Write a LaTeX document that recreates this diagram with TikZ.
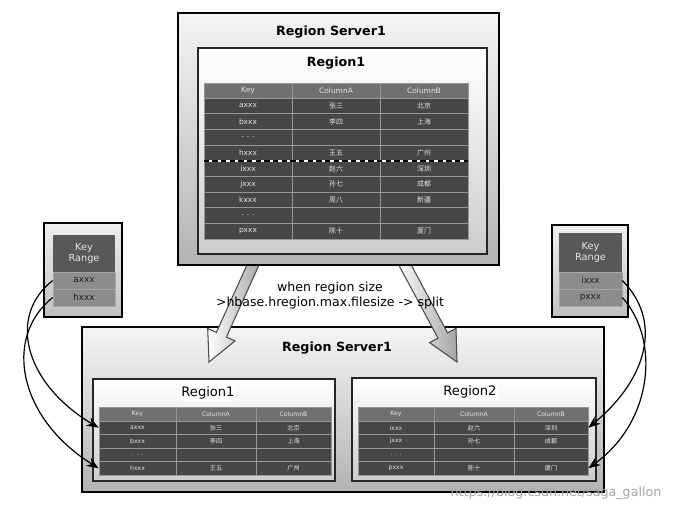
\documentclass[tikz,border=0pt]{standalone}
\usepackage{fontspec}
\setmainfont{DejaVu Sans}
\newfontfamily\cjk{Noto Sans CJK SC}
\usetikzlibrary{arrows.meta}

\definecolor{headgray}{RGB}{112,112,112}
\definecolor{rowgray}{RGB}{70,70,70}
\definecolor{gridgray}{RGB}{150,150,150}
\definecolor{keyhead}{RGB}{88,88,88}
\definecolor{keyrow}{RGB}{140,140,140}
\definecolor{txtlight}{RGB}{228,228,228}
\definecolor{txtdark}{RGB}{30,30,30}

\tikzset{every picture/.style={line width=0.75pt}}
\tikzset{
  server/.style={draw=black, line width=1.1pt, top color=black!4, bottom color=black!30},
  regionbox/.style={draw=black!85, line width=1pt, top color=white, bottom color=black!20},
  keybox/.style={draw=black, line width=1pt, top color=black!6, bottom color=black!25},
  bigarrow/.style={draw=black!70, line width=0.8pt, left color=white, right color=black!35},
  title/.style={font=\bfseries\fontsize{9.5}{11}\selectfont},
  subtitle/.style={font=\fontsize{9.8}{11}\selectfont, fill=white, inner sep=1pt},
  headrow/.style={draw=gridgray, fill=headgray, inner sep=0pt, line width=0.6pt},
  datarow/.style={draw=gridgray, fill=rowgray, inner sep=0pt, line width=0.6pt},
  toptxt/.style={text=txtlight, inner sep=0pt, font=\fontsize{5.6}{6}\selectfont},
  topcjk/.style={text=txtlight, inner sep=0pt, font=\cjk\fontsize{5.2}{6}\selectfont},
  lowtxt/.style={text=txtlight, inner sep=0pt, font=\fontsize{4.6}{5}\selectfont},
  lowcjk/.style={text=txtlight, inner sep=0pt, font=\cjk\fontsize{4.6}{5}\selectfont},
  keyhd/.style={fill=keyhead, text=txtlight, inner sep=0pt, align=center, font=\fontsize{7.3}{8.4}\selectfont},
  keycell/.style={fill=keyrow, draw=black!35, line width=0.4pt, text=txtdark, inner sep=0pt, font=\fontsize{6.6}{7}\selectfont},
  link/.style={-{Stealth[length=9pt,width=7pt]}, line width=0.9pt}
}

\begin{document}
\begin{tikzpicture}[x=0.75pt,y=0.75pt,yscale=-1,xscale=1]
\useasboundingbox (0,0) rectangle (681,511);

%Shape: Rectangle [id:lower server]
\draw[server] (82,327) rectangle (604,492);
\node[title] (srv2) at (337,348) {Region Server1};

%Shape: Arrow [id:split left]
\draw[bigarrow] (251.5,254.9) -- (216.4,332.4) -- (207.7,328.5) -- (209,362) -- (235.1,340.9) -- (226.4,337.0) -- (261.5,259.5) -- cycle;
%Shape: Arrow [id:split right]
\draw[bigarrow] (395.4,258.8) -- (438.0,338.1) -- (429.6,342.6) -- (457,362) -- (456.0,328.4) -- (447.6,332.9) -- (405.1,253.6) -- cycle;

%Shape: Rectangle [id:upper server]
\draw[server] (178,13) rectangle (499,265);
\node[title] (srv1) at (331,32) {Region Server1};
\draw[regionbox] (198,48) rectangle (487,254);
\node[title] (reg0) at (336,63) {Region1};

%upper table
\node[headrow, minimum width=198pt, minimum height=11.25pt] (th) at (336,90.5) {};
\foreach \k/\a/\b [count=\i] in {axxx/张三/北京, bxxx/李四/上海, {. . .}/{}/{}, hxxx/王五/广州, ixxx/赵六/深圳, jxxx/孙七/成都, kxxx/周八/新疆, {. . .}/{}/{}, pxxx/陈十/厦门}{
  \node[datarow, minimum width=198pt, minimum height=11.75pt] (t\i) at (336,{98+15.67*(\i-0.5)}) {};
  \node[toptxt] at (248,{98+15.67*(\i-0.5)}) {\k};
  \node[topcjk] at (336,{98+15.67*(\i-0.5)}) {\a};
  \node[topcjk] at (424,{98+15.67*(\i-0.5)}) {\b};
}
\node[toptxt] at (248,90.5) {Key};
\node[toptxt] at (336,90.5) {ColumnA};
\node[toptxt] at (424,90.5) {ColumnB};
\draw[gridgray, line width=0.6pt] (292,83) -- (292,239) (380,83) -- (380,239);
\draw[white, line width=2pt] (t4.south west) -- (t4.south east);
\draw[black, line width=2pt, dash pattern=on 4pt off 2.5pt] (t4.south west) -- (t4.south east);

%Shape: Rectangle [id:lower region1]
\draw[regionbox] (93,379) rectangle (335,481);
\node[subtitle] (reg1) at (208,393) {Region1};
\node[headrow, minimum width=174pt, minimum height=10.5pt] (lh) at (215,414) {};
\foreach \k/\a/\b [count=\i] in {axxx/张三/北京, bxxx/李四/上海, {. . .}/{}/{}, hxxx/王五/广州}{
  \node[datarow, minimum width=174pt, minimum height=10.1pt] (l\i) at (215,{421+13.5*(\i-0.5)}) {};
  \node[lowtxt] at (137.5,{421+13.5*(\i-0.5)}) {\k};
  \node[lowcjk] at (216,{421+13.5*(\i-0.5)}) {\a};
  \node[lowcjk] at (293.5,{421+13.5*(\i-0.5)}) {\b};
}
\node[lowtxt] at (137.5,414) {Key};
\node[lowtxt] at (216,414) {ColumnA};
\node[lowtxt] at (293.5,414) {ColumnB};
\draw[gridgray, line width=0.6pt] (176,407) -- (176,475) (256,407) -- (256,475);

%Shape: Rectangle [id:lower region2]
\draw[regionbox] (352,378) rectangle (596,481);
\node[subtitle] (reg2) at (470,392) {Region2};
\node[headrow, minimum width=172.5pt, minimum height=10.5pt] (rh) at (473,414) {};
\foreach \k/\a/\b [count=\i] in {ixxx/赵六/深圳, jxxx/孙七/成都, {. . .}/{}/{}, pxxx/陈十/厦门}{
  \node[datarow, minimum width=172.5pt, minimum height=10.1pt] (r\i) at (473,{421+13.5*(\i-0.5)}) {};
  \node[lowtxt] at (396,{421+13.5*(\i-0.5)}) {\k};
  \node[lowcjk] at (474,{421+13.5*(\i-0.5)}) {\a};
  \node[lowcjk] at (551,{421+13.5*(\i-0.5)}) {\b};
}
\node[lowtxt] at (396,414) {Key};
\node[lowtxt] at (474,414) {ColumnA};
\node[lowtxt] at (551,414) {ColumnB};
\draw[gridgray, line width=0.6pt] (434,407) -- (434,475) (514,407) -- (514,475);

%Shape: Rectangle [id:key range left]
\draw[keybox] (44,223) rectangle (122,317);
\node[keyhd, minimum width=46.5pt, minimum height=27.75pt] (klh) at (84,253.5) {Key\\Range};
\node[keycell, minimum width=46.5pt, minimum height=12.75pt] (kl1) at (84,280.5) {axxx};
\node[keycell, minimum width=46.5pt, minimum height=12.75pt] (kl2) at (84,297.5) {hxxx};

%Shape: Rectangle [id:key range right]
\draw[keybox] (552,225) rectangle (628,317);
\node[keyhd, minimum width=47.25pt, minimum height=29.25pt] (krh) at (590.5,252.5) {Key\\Range};
\node[keycell, minimum width=47.25pt, minimum height=12.75pt] (kr1) at (590.5,280.5) {ixxx};
\node[keycell, minimum width=47.25pt, minimum height=12.75pt] (kr2) at (590.5,297.5) {pxxx};

%Curve Lines
\draw[link] (kl1.west) .. controls +(-45,35) and +(-75,-45) .. (l1.west);
\draw[link] (kl2.west) .. controls +(-50,40) and +(-80,-50) .. (l4.west);
\draw[link] (kr1.east) .. controls +(40,40) and +(60,-50) .. (r1.east);
\draw[link] (kr2.east) .. controls +(38,42) and +(65,-47) .. (r4.east);

%split note
\node[font=\fontsize{9.4}{11.3}\selectfont, align=center] (note) at (330,295.5) {when region size\\>hbase.hregion.max.filesize -> split};

%watermark
\node[text=black!35, font=\fontsize{9.5}{11}\selectfont] (mark) at (556,493) {https://blog.csdn.net/saga\_gallon};
\end{tikzpicture}
\end{document}
